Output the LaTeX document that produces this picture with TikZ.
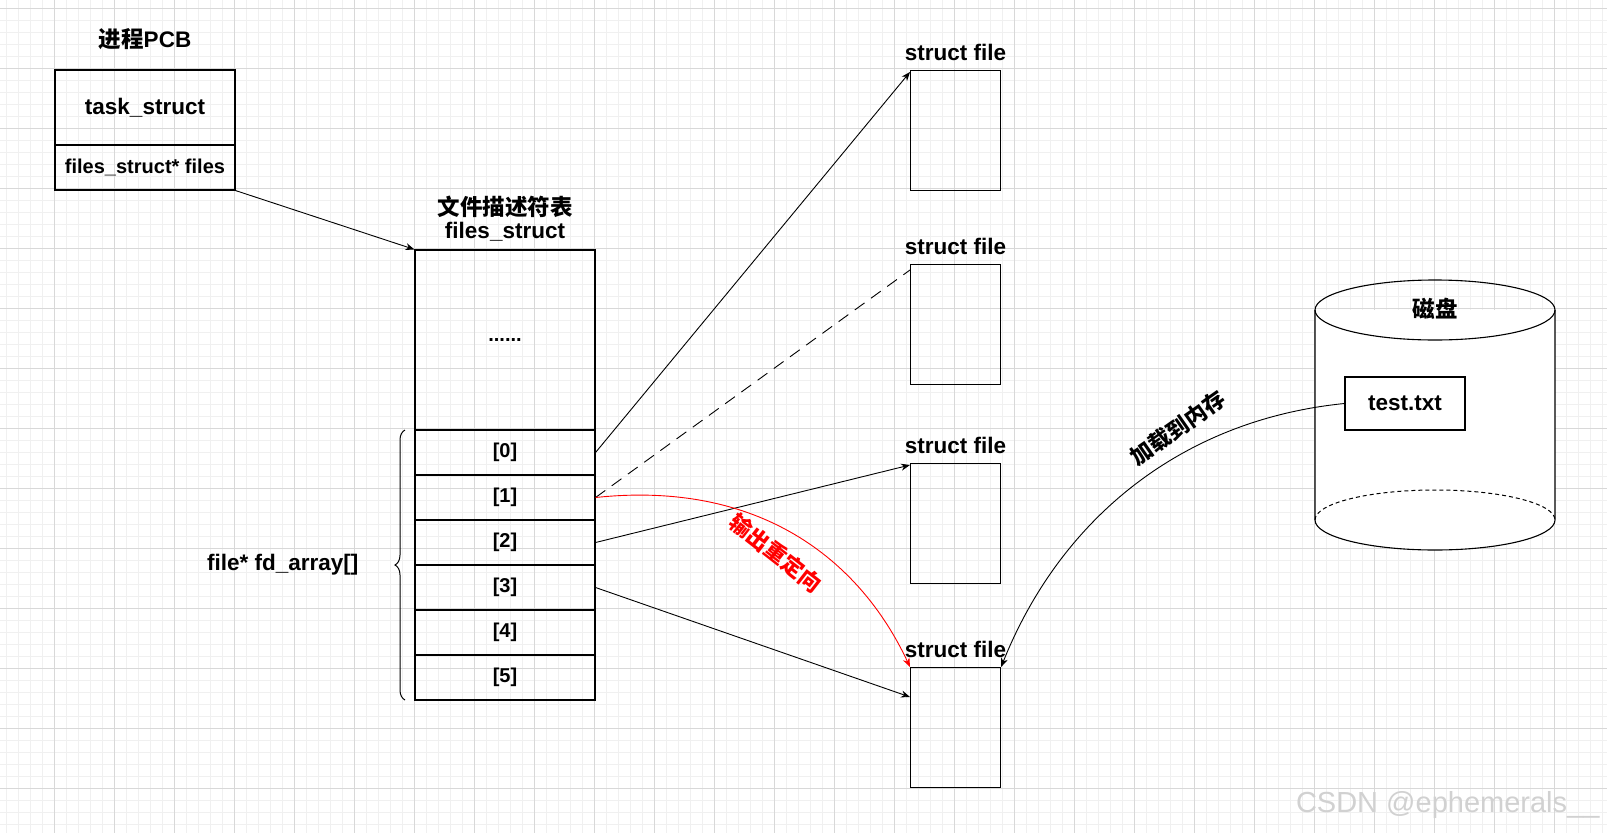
\documentclass[tikz,border=0pt]{standalone}
\usepackage{fontspec}
\setmainfont{Liberation Sans}
\newfontfamily\cjk{Noto Sans CJK SC}
\usetikzlibrary{arrows.meta,decorations.pathreplacing}
\definecolor{minorg}{HTML}{F0F0F0}
\definecolor{majorg}{HTML}{D8D8D8}
\begin{document}
\begin{tikzpicture}[x=1pt,y=-1pt,
  bx/.style={draw,line width=1.1pt,inner sep=0pt},
  lbl/.style={font=\fontsize{22.5}{26}\selectfont\bfseries},
  cell/.style={font=\fontsize{20}{24}\selectfont\bfseries},
  arr/.style={-{Stealth[length=9pt,width=7pt]},line width=0.9pt}]
\fill[white] (0,0) rectangle (1607,833);
\useasboundingbox (0,0) rectangle (1607,833);
\foreach \x in {6,18,...,1607} \draw[minorg,line width=0.8pt] (\x,0)--(\x,833);
\foreach \y in {8,20,...,833} \draw[minorg,line width=0.8pt] (0,\y)--(1607,\y);
\foreach \x in {54,114,...,1607} \draw[majorg,line width=0.9pt] (\x,0)--(\x,833);
\foreach \y in {8,68,...,833} \draw[majorg,line width=0.9pt] (0,\y)--(1607,\y);
% PCB
\node[lbl] (pcbt) at (145,39) {{\cjk\bfseries 进程}PCB};
\node[bx,lbl,minimum width=180pt,minimum height=75pt] (task) at (145,107.5) {task\_struct};
\node[bx,cell,minimum width=180pt,minimum height=45pt] (files) at (145,167.5) {files\_struct* files};
% files_struct table
\node[lbl,align=center] (fst) at (505,219) {{\cjk\bfseries 文件描述符表}\\[-3pt]files\_struct};
\node[bx,minimum width=180pt,minimum height=180pt,font=\fontsize{20}{24}\selectfont\bfseries] (dots) at (505,340) {......};
\foreach \i in {0,...,5}{
  \node[bx,cell,minimum width=180pt,minimum height=45pt] (c\i) at (505,452.5+45*\i) {[\i]};
}
\draw[decorate,decoration={brace,amplitude=10pt},line width=1pt] (405,700) -- (405,430) coordinate[pos=0.5] (brm);
\node[lbl,anchor=east] (fda) at (362,565) {file* fd\_array[]};
% struct files
\foreach \n/\t in {1/70,2/264,3/463,4/667}{
  \node[bx,minimum width=90pt,minimum height=120pt,anchor=north west] (f\n) at (910,\t) {};
  \node[lbl,anchor=south] (fl\n) at ([yshift=6pt]f\n.north) {struct file};
}
% disk
\draw[line width=1.1pt,fill=white] (1315,310) -- (1315,520) arc[start angle=180,end angle=360,x radius=120pt,y radius=30pt] -- (1555,310);
\draw[line width=1.1pt] (1435,310) ellipse[x radius=120pt,y radius=30pt];
\draw[line width=1pt,dash pattern=on 4pt off 3pt] (1315,520) arc[start angle=180,end angle=0,x radius=120pt,y radius=30pt];
\node[lbl] (dl) at (1435,309) {\cjk\bfseries 磁盘};
\node[bx,lbl,minimum width=120pt,minimum height=53pt] (test) at (1405,403.5) {test.txt};
% arrows
\draw[arr] (files.south east) -- (dots.north west);
\draw[arr] (c0.east) -- ([yshift=-2pt]f1.north west);
\draw[line width=0.9pt,dash pattern=on 12pt off 8pt] (c1.east) -- ([yshift=-6pt]f2.north west);
\draw[arr] (c2.east) -- ([yshift=-2pt]f3.north west);
\draw[arr] (c3.east) -- ([yshift=-30pt]f4.north west);
\draw[arr,red] (c1.east) .. controls (760,480) and (860,560) .. (f4.north west);
\node[red,font=\fontsize{22}{26}\selectfont\cjk\bfseries,rotate=-38] (rl) at (776,553) {输出重定向};
\draw[arr] (test.west) .. controls (1180,420) and (1060,520) .. (f4.north east);
\node[font=\fontsize{22}{26}\selectfont\cjk\bfseries,rotate=35] (ll) at (1178,428) {加载到内存};
\node[font=\fontsize{29}{32}\selectfont,text=black!18,anchor=east] (wm) at (1603,805) {CSDN @ephemerals\_\_};
\end{tikzpicture}
\end{document}
